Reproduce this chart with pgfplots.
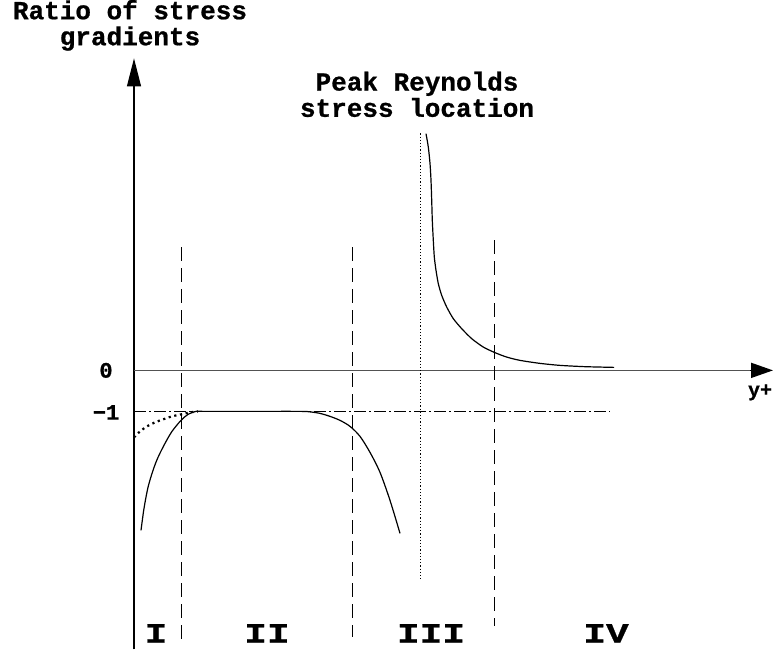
\documentclass[border=0pt]{standalone}
\usepackage{pgfplots}
\pgfplotsset{compat=1.18}
\usetikzlibrary{arrows.meta}
\usepackage{fontspec}
\setmainfont{Liberation Mono}[BoldFeatures={FakeBold=0.8}]
\newfontfamily\romfont[FakeStretch=1.35, BoldFeatures={FakeBold=0.8}]{Liberation Mono}
\begin{document}
\begin{tikzpicture}
\begin{axis}[hide axis, scale only axis, width=387pt, height=324.5pt,
  xmin=0, xmax=774, ymin=0, ymax=649, y dir=reverse, clip=false]
\addplot[draw=none] coordinates {(0,0) (774,649)};
% vertical axis
\addplot[black, line width=0.6pt, -{Triangle[length=14pt,width=7pt]}] coordinates {(134,649) (134,58)};
% horizontal axis
\addplot[black!68, line width=0.8pt] coordinates {(134,370) (752,370)};
\addplot[black, line width=0.8pt, -{Triangle[length=11pt,width=7.5pt]}] coordinates {(750,370) (773,370)};
% -1 reference line
\addplot[black, line width=0.5pt, dash pattern=on 6pt off 1.5pt on 1pt off 1.5pt] coordinates {(134,411) (610,411)};
% region boundaries
\addplot[black, line width=0.5pt, dash pattern=on 7pt off 3.5pt] coordinates {(181,247) (181,644)};
\addplot[black, line width=0.5pt, dash pattern=on 7pt off 3.5pt] coordinates {(352,247) (352,637)};
\addplot[black, line width=0.5pt, dash pattern=on 7pt off 3.5pt] coordinates {(494,240) (494,626)};
% peak location
\addplot[black, line width=0.5pt, dash pattern=on 0.6pt off 1pt] coordinates {(420,133) (420,578)};
% curve regions I-II
\addplot[black, line width=0.6pt, smooth, tension=0.5] coordinates {
(141,530) (144,508) (148,487) (153,470) (158,457) (165,443) (172,431) (181,420)
(188,414) (196,411) (205,411) (250,411) (300,411) (310,411.5) (320,413) (330,416)
(340,420) (350,426) (360,436) (370,452) (380,472) (390,500) (400,533)};
% dotted curve
\addplot[black, line width=1.1pt, dash pattern=on 1.1pt off 1.8pt, smooth] coordinates {
(134,437) (140,431) (147,426) (155,422) (163,419) (172,416) (181,414) (190,412) (198,411)};
% curve region III-IV
\addplot[black, line width=0.6pt, smooth, tension=0.4] coordinates {
(426.0,133.3) (428.3,146.7) (430,163) (431,180) (431.7,200) (432.3,220) (433.3,240)
(434.3,256.7) (436,270) (438.3,283.3) (441.7,295) (446.7,306.7) (453.3,318.3)
(461.7,328.3) (471.7,338.3) (483.3,346.7) (495,352.3) (506.7,356.7) (520,360)
(540,363) (560,365) (585,366.3) (614,367)};
% texts
\node[font=\fontsize{13}{13}\selectfont\bfseries, align=center, inner sep=0pt] at (axis cs:130,25) {\bfseries Ratio of stress\\\bfseries gradients};
\node[font=\fontsize{13}{12}\selectfont\bfseries, align=center, inner sep=0pt] at (axis cs:417,94) {\bfseries Peak Reynolds\\\bfseries stress location};
\node[font=\fontsize{11}{12}\selectfont\bfseries, inner sep=0pt] at (axis cs:106,370) {0};
\node[font=\fontsize{11}{12}\selectfont\bfseries, inner sep=0pt] at (axis cs:106,412) {−1};
\node[font=\fontsize{10}{12}\selectfont\bfseries, inner sep=0pt] at (axis cs:760,392) {y+};
\node[font=\fontsize{14}{14}\selectfont\romfont\bfseries, inner sep=0pt] at (axis cs:156,633) {I};
\node[font=\fontsize{14}{14}\selectfont\romfont\bfseries, inner sep=0pt] at (axis cs:267,633) {II};
\node[font=\fontsize{14}{14}\selectfont\romfont\bfseries, inner sep=0pt] at (axis cs:431,633) {III};
\node[font=\fontsize{14}{14}\selectfont\romfont\bfseries, inner sep=0pt] at (axis cs:606,633) {IV};
\end{axis}
\end{tikzpicture}
\end{document}
